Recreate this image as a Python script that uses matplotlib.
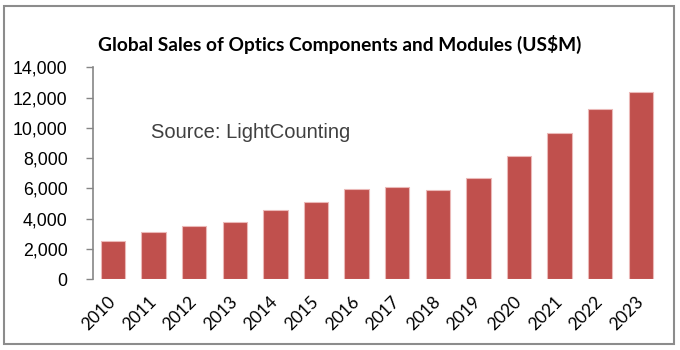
import matplotlib.pyplot as plt
from matplotlib.patches import Rectangle
from matplotlib.ticker import FuncFormatter

years = ['2010', '2011', '2012', '2013', '2014', '2015', '2016',
         '2017', '2018', '2019', '2020', '2021', '2022', '2023']
sales = [2530, 3140, 3540, 3760, 4570, 5080, 5980,
         6090, 5890, 6690, 8120, 9640, 11240, 12380]
y_ticks = [0, 2000, 4000, 6000, 8000, 10000, 12000, 14000]

title = 'Global Sales of Optics Components and Modules (US$M)'
source = 'Source: LightCounting'

fig = plt.figure(figsize=(6.8, 3.5), dpi=100)

# outer frame of the chart
fig.patches.append(Rectangle((4 / 680, 1 - 344 / 350), 670 / 680, 338 / 350,
                             transform=fig.transFigure, fill=False,
                             edgecolor='#8c8c8c', lw=1.5))

ax = fig.add_axes([0.1363, 0.202, 0.836, 0.6057])
x = range(len(years))
ax.bar(x, sales, width=0.6, color='#C0504D', edgecolor='#EBB9B8', lw=0.8)

ax.set_xlim(-0.5, 13.5)
ax.set_ylim(0, 14000)
ax.set_yticks(y_ticks)
ax.yaxis.set_major_formatter(FuncFormatter(lambda v, p: f'{int(v):,}'))
ax.tick_params(axis='y', length=5, width=1, color='#868686', pad=13,
               labelsize=12.8)
for lbl in ax.get_yticklabels():
    lbl.set_family('Liberation Sans')

ax.set_xticks(list(x))
ax.set_xticklabels(years, rotation=45, ha='right', va='center',
                   rotation_mode='anchor', family='Lato', fontsize=12.5)
ax.tick_params(axis='x', length=0, pad=14)

for s in ['top', 'right', 'bottom']:
    ax.spines[s].set_visible(False)
ax.spines['left'].set_color('#868686')
ax.spines['left'].set_linewidth(1.2)

fig.text(0.5, 1 - 44 / 350, title, ha='center', va='center',
         family='Lato', fontweight='bold', fontsize=13.8)
ax.text(151 / 680, 1 - 133 / 350, source, transform=fig.transFigure,
        ha='left', va='center', family='Liberation Sans', fontsize=14.5,
        color='#404040')

fig.savefig('out.png', dpi=100)
